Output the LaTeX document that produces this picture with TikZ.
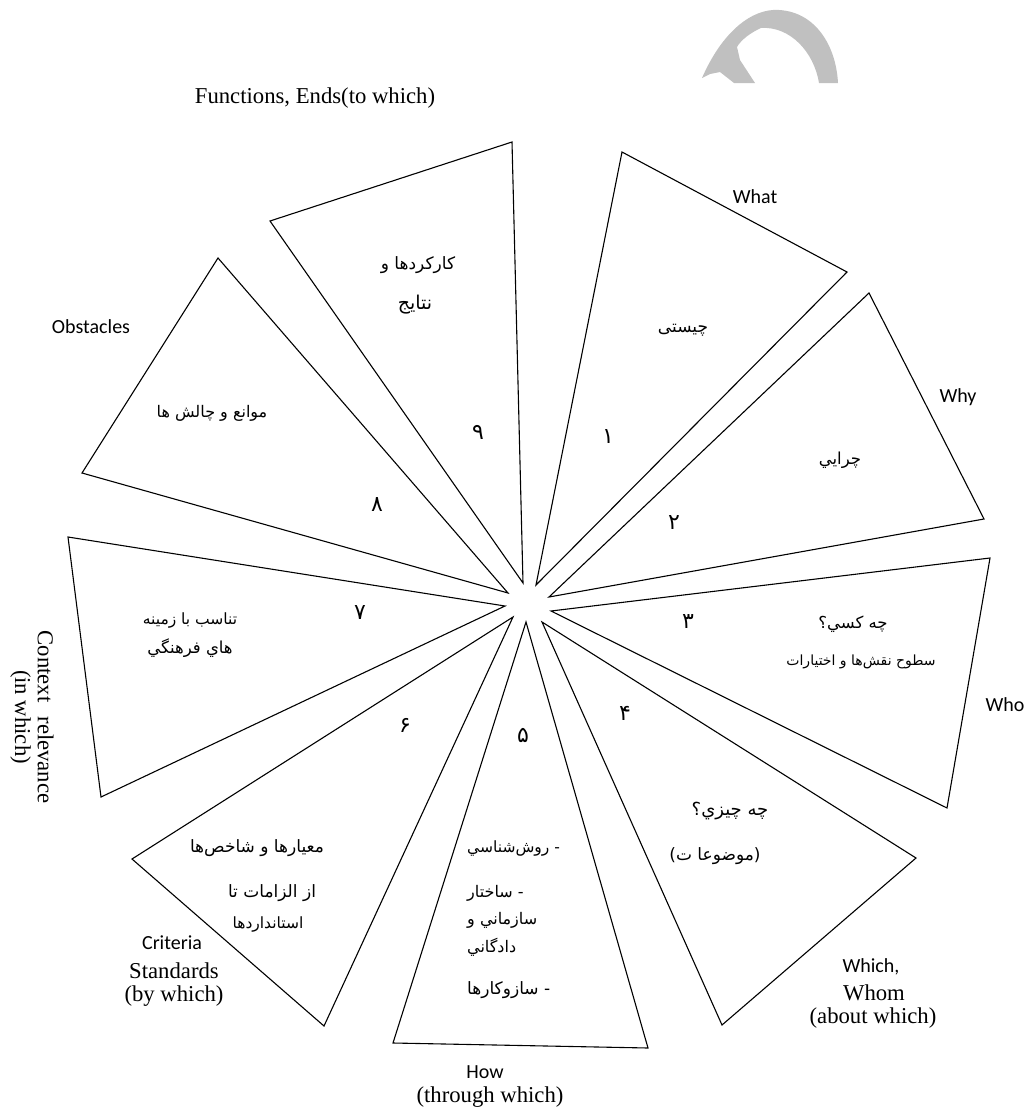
\documentclass[tikz,border=0pt]{standalone}
\usepackage{fontspec}
\setmainfont{Liberation Serif}
\newfontfamily\calfont{Carlito}
\newfontfamily\fafont[Script=Arabic]{DejaVu Sans}
\TeXXeTstate=1
\definecolor{wmgray}{RGB}{192,192,192}
\newcommand{\fatext}[1]{\beginR #1\endR}
\newcommand{\fasz}[1]{\fontsize{#1}{#1}\selectfont}
\tikzset{
  tri/.style={draw=black, line width=1.1pt, line join=miter},
  fa/.style={font=\fafont\fasz{17}, inner sep=0pt},
  num/.style={font=\fafont\fasz{22}, inner sep=0pt},
  ensans/.style={font=\calfont\fasz{20}, inner sep=0pt},
  enserif/.style={font=\fasz{22.7}, inner sep=0pt},
}
\begin{document}
\begin{tikzpicture}[x=1pt,y=-1pt]
\useasboundingbox (0,0) rectangle (1026,1108);
% watermark
\fill[wmgray] (702,78) .. controls (722,32) and (752,8) .. (779,10)
  .. controls (815,12) and (836,45) .. (838,83) -- (819,83)
  .. controls (814,52) and (790,26) .. (761,28)
  .. controls (750,33) and (741,40) .. (737,47) -- (740,60) -- (755,83)
  -- (734,83) -- (720,72) -- (710,74) -- cycle;
% triangle vertices
\coordinate (a1) at (536,585); \coordinate (b1) at (622,152); \coordinate (c1) at (847,272);
\coordinate (a2) at (549,597); \coordinate (b2) at (869,293); \coordinate (c2) at (984,519);
\coordinate (a3) at (551,611); \coordinate (b3) at (990,558); \coordinate (c3) at (947,808);
\coordinate (a4) at (542,622); \coordinate (b4) at (916,858); \coordinate (c4) at (722,1025);
\coordinate (a5) at (526,622); \coordinate (b5) at (648,1048); \coordinate (c5) at (393,1043);
\coordinate (a6) at (513,617); \coordinate (b6) at (324,1026); \coordinate (c6) at (132,859);
\coordinate (a7) at (505,606); \coordinate (b7) at (101,797); \coordinate (c7) at (68,537);
\coordinate (a8) at (508,593); \coordinate (b8) at (82,473); \coordinate (c8) at (218,258);
\coordinate (a9) at (523,583); \coordinate (b9) at (270,221); \coordinate (c9) at (512,142);
\foreach \i in {1,...,9} { \draw[tri] (a\i) -- (b\i) -- (c\i) -- cycle; }
% English labels
\node[enserif] (lfun) at (315,98) {Functions, Ends(to which)};
\node[ensans] (lwhat) at (755,197) {What};
\node[ensans] (lwhy) at (958,397) {Why};
\node[ensans] (lwho) at (1005,705) {Who};
\node[ensans] (lwhich) at (871,967) {Which,};
\node[enserif] (lwhom) at (874,993) {Whom};
\node[enserif] (labout) at (873,1018) {(about which)};
\node[ensans] (lhow) at (485,1072) {How};
\node[enserif] (lthrough) at (490,1097) {(through which)};
\node[ensans] (lcrit) at (172,943) {Criteria};
\node[enserif] (lstand) at (174,971) {Standards};
\node[enserif] (lby) at (174,996) {(by which)};
\node[enserif, rotate=-90, align=center] (lcontext) at (32,717) {Context\hspace{14pt}relevance\\(in which)};
\node[ensans] (lobst) at (91,327) {Obstacles};
% Persian texts
\node[fa] (t9a) at (418,265) {\fatext{کارکردها و}};
\node[fa, font=\fafont\fasz{19}] (t9b) at (415,305) {\fatext{نتایج}};
\node[fa] (t1) at (683,330) {\fatext{چیستی}};
\node[fa, font=\fafont\fasz{16.5}] (t2) at (840,460) {\fatext{چرايي}};
\node[fa, font=\fafont\fasz{16.5}] (t3a) at (853,624) {\fatext{چه كسي؟}};
\node[fa, font=\fafont\fasz{14}] (t3b) at (861,662) {\fatext{سطوح نقش‌ها و اختيارات}};
\node[fa, font=\fafont\fasz{18}] (t4a) at (730,811) {\fatext{چه چيزي؟}};
\node[fa] (t4b) at (715,856) {\fatext{(موضوعا ت)}};
\node[fa, font=\fafont\fasz{15.5}, anchor=west] (t5a) at (467,848) {\fatext{- روش‌شناسي}};
\node[fa, font=\fafont\fasz{16}, anchor=west] (t5b) at (467,893) {\fatext{- ساختار}};
\node[fa, font=\fafont\fasz{16}, anchor=west] (t5c) at (467,920) {\fatext{سازماني و}};
\node[fa, font=\fafont\fasz{16}, anchor=west] (t5d) at (467,947) {\fatext{دادگاني}};
\node[fa, anchor=west] (t5e) at (467,990) {\fatext{- سازوكارها}};
\node[fa] (t6a) at (257,848) {\fatext{معيارها و شاخص‌ها}};
\node[fa] (t6b) at (272,893) {\fatext{از الزامات تا}};
\node[fa, font=\fafont\fasz{15.5}] (t6c) at (268,924) {\fatext{استانداردها}};
\node[fa, font=\fafont\fasz{15.5}] (t7a) at (190,620) {\fatext{تناسب با زمينه}};
\node[fa, font=\fafont\fasz{16.5}] (t7b) at (190,648) {\fatext{هاي فرهنگي}};
\node[fa, font=\fafont\fasz{16}] (t8) at (212,413) {\fatext{موانع و چالش ها}};
% numbers
\node[num] (n1) at (608,437) {\fatext{۱}};
\node[num] (n2) at (674,523) {\fatext{۲}};
\node[num] (n3) at (688,622) {\fatext{۳}};
\node[num] (n4) at (625,713) {\fatext{۴}};
\node[num] (n5) at (523,735) {\fatext{۵}};
\node[num] (n6) at (405,725) {\fatext{۶}};
\node[num] (n7) at (360,613) {\fatext{۷}};
\node[num] (n8) at (377,505) {\fatext{۸}};
\node[num] (n9) at (478,432) {\fatext{۹}};
\end{tikzpicture}
\end{document}
